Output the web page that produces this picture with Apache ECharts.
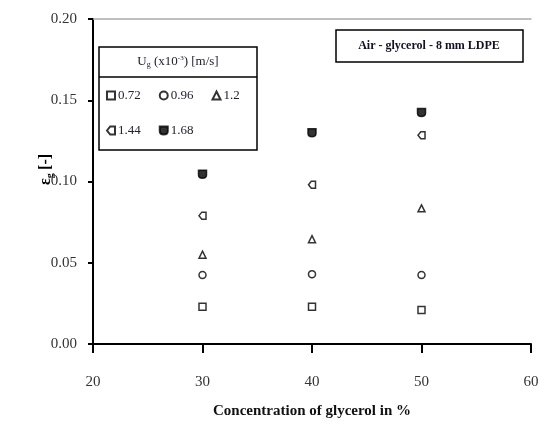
<!DOCTYPE html>
<html><head><meta charset="utf-8">
<script src="https://cdn.jsdelivr.net/npm/echarts@6/dist/echarts.min.js"></script>
<style>html,body{margin:0;padding:0;background:#fff}#c{width:547px;height:431px}</style>
</head><body><div id="c"></div>
<script>
const concentrations = [30, 40, 50];
const seriesNames = ['0.72', '0.96', '1.2', '1.44', '1.68'];
const v072 = [0.023, 0.023, 0.021];
const v096 = [0.0425, 0.043, 0.0425];
const v120 = [0.055, 0.0645, 0.0835];
const v144 = [0.079, 0.098, 0.1285];
const v168 = [0.1045, 0.130, 0.1425];
const xTicks = [20, 30, 40, 50, 60];
const yTicks = [0, 0.05, 0.10, 0.15, 0.20];

const values = [v072, v096, v120, v144, v168];
const symbols = ['rect', 'circle', 'triangle', 'path://M0,5 L4,0 L10,0 L10,10 L4,10 Z', 'path://M0,0 L10,0 L10,6 Q10,10 5,10 Q0,10 0,6 Z'];
const filled = [false, false, false, false, true];
const sizes = [7, 7, 7, 7, 8];
const serif = 'Liberation Serif';

const chart = echarts.init(document.getElementById('c'));
const series = values.map((vals, i) => ({
  name: seriesNames[i],
  type: 'scatter',
  symbol: symbols[i],
  symbolSize: sizes[i],
  data: concentrations.map((c, j) => [c, vals[j]]),
  itemStyle: { color: filled[i] ? '#000' : '#fff', borderColor: '#000', borderWidth: 1.5 }
}));

const legendBase = {
  itemWidth: 8, itemHeight: 8, itemGap: 18, padding: 0,
  textStyle: { fontFamily: serif, fontSize: 13, color: '#223', padding: [0, 0, 0, -2] }
};

chart.setOption({
  animation: false,
  backgroundColor: '#fff',
  grid: { left: 93, right: 16, top: 19, bottom: 87 },
  legend: [
    Object.assign({}, legendBase, { data: seriesNames.slice(0, 3), left: 106, top: 89 }),
    Object.assign({}, legendBase, { data: seriesNames.slice(3), left: 106, top: 124 })
  ],
  xAxis: [{
    type: 'value', min: 20, max: 60, interval: 10,
    axisLine: { show: true, lineStyle: { color: '#000', width: 2 } },
    axisTick: { show: true, inside: false, length: 9, lineStyle: { color: '#000', width: 2 } },
    splitLine: { show: false },
    axisLabel: { fontFamily: serif, fontSize: 15, color: '#333', margin: 31 },
    name: 'Concentration of glycerol in %',
    nameLocation: 'middle', nameGap: 60,
    nameTextStyle: { fontFamily: serif, fontSize: 15, fontWeight: 'bold', color: '#111' }
  }, {
    type: 'value', min: 20, max: 60, position: 'top',
    axisLine: { show: true, lineStyle: { color: '#aaa', width: 1.5 } },
    axisTick: { show: false }, axisLabel: { show: false }, splitLine: { show: false }
  }],
  yAxis: {
    type: 'value', min: 0, max: 0.2, interval: 0.05,
    axisLine: { show: true, lineStyle: { color: '#000', width: 2 } },
    axisTick: { show: true, inside: false, length: 5, lineStyle: { color: '#000', width: 2 } },
    splitLine: { show: false },
    axisLabel: { fontFamily: serif, fontSize: 15, color: '#333', margin: 16, formatter: v => v.toFixed(2) },
    name: '{e|ε}{s|g} {e|[-]}',
    nameLocation: 'middle', nameRotate: 90, nameGap: 38, nameMoveOverlap: false,
    nameTextStyle: { padding: [0, 0, 0, 24], rich: {
      e: { fontFamily: serif, fontSize: 16, fontWeight: 'bold', color: '#000' },
      s: { fontFamily: serif, fontSize: 10, fontWeight: 'bold', color: '#000', verticalAlign: 'bottom', padding: [8, 0, 0, 0] }
    } }
  },
  graphic: [
    { type: 'rect', shape: { x: 99, y: 47, width: 158, height: 103 }, style: { fill: 'rgba(0,0,0,0)', stroke: '#000', lineWidth: 1.5 }, z: 100 },
    { type: 'line', shape: { x1: 99, y1: 77, x2: 257, y2: 77 }, style: { stroke: '#000', lineWidth: 1.5 }, z: 100 },
    { type: 'text', x: 178, y: 62, style: { text: '{n|U}{s|g}{n| (x10}{p|-3}{n|) [m/s]}', align: 'center', verticalAlign: 'middle',
      rich: { n: { fontFamily: serif, fontSize: 13, fill: '#223' }, s: { fontFamily: serif, fontSize: 8, fill: '#223', padding: [6, 0, 0, 0] }, p: { fontFamily: serif, fontSize: 7, fill: '#223', padding: [0, 0, 7, 0] } } }, z: 100 },
    { type: 'rect', shape: { x: 336, y: 30, width: 187, height: 32 }, style: { fill: '#fff', stroke: '#000', lineWidth: 1.5 }, z: 100 },
    { type: 'text', x: 429, y: 46, style: { text: 'Air - glycerol - 8 mm LDPE', align: 'center', verticalAlign: 'middle', fontFamily: serif, fontSize: 12, fontWeight: 'bold', fill: '#112' }, z: 101 }
  ],
  series: series
});
</script></body></html>
